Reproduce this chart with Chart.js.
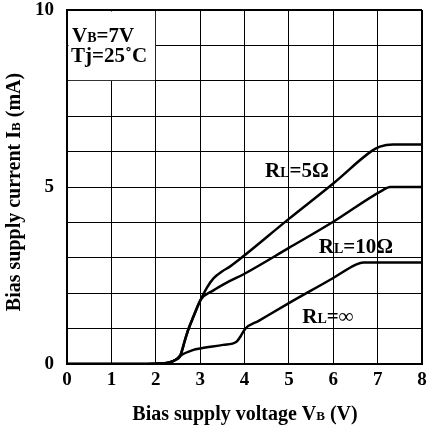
<!DOCTYPE html>
<html>
<head>
<meta charset="utf-8">
<script src="https://cdn.jsdelivr.net/npm/chart.js@4.4.1/dist/chart.umd.min.js"></script>
<style>
html, body { margin: 0; padding: 0; background: #fff; }
#wrap { width: 427px; height: 425px; }
</style>
</head>
<body>
<div id="wrap"><canvas id="graph"></canvas></div>
<script>
// Bias supply current vs bias supply voltage, three load resistances
const rl5Volts = [0, 1, 2, 2.3, 2.45, 2.55, 2.66, 2.73, 2.85, 3.01, 3.15, 3.3, 3.5, 3.67, 3.78, 4.05, 5, 6, 6.87, 7.05, 7.35, 8];
const rl5Current = [0, 0, 0.01, 0.04, 0.12, 0.23, 0.68, 0.96, 1.34, 1.81, 2.15, 2.42, 2.62, 2.75, 2.85, 3.12, 4.1, 5.1, 6.02, 6.14, 6.2, 6.2];

const rl10Volts = [0, 1, 2, 2.3, 2.45, 2.55, 2.66, 2.73, 2.85, 3.01, 3.3, 3.6, 4.0, 5, 6, 7.1, 7.28, 8];
const rl10Current = [0, 0, 0.01, 0.04, 0.12, 0.23, 0.68, 0.96, 1.34, 1.81, 2.08, 2.3, 2.55, 3.28, 4.02, 4.9, 5.0, 5.0];

const rlInfVolts = [0, 1, 2, 2.3, 2.45, 2.55, 2.85, 3.0, 3.52, 3.82, 3.92, 4.02, 4.32, 5, 6, 6.5, 6.68, 8];
const rlInfCurrent = [0, 0, 0.01, 0.04, 0.12, 0.23, 0.4, 0.44, 0.54, 0.63, 0.8, 1.0, 1.22, 1.72, 2.43, 2.8, 2.87, 2.87];

const yTickLabels = [0, 5, 10];

const FONT = "'Liberation Serif', 'Times New Roman', serif";

function toPoints(xs, ys) {
    return xs.map((v, i) => ({ x: v, y: ys[i] }));
}

// draws text made of pieces of different sizes (for the small subscripts)
function drawPieces(ctx, pieces, x, y, align) {
    let total = 0;
    pieces.forEach(p => {
        ctx.font = 'bold ' + p[1] + 'px ' + FONT;
        total += ctx.measureText(p[0]).width;
    });
    let cx = align === 'center' ? x - total / 2 : x;
    ctx.textAlign = 'left';
    ctx.textBaseline = 'alphabetic';
    pieces.forEach(p => {
        ctx.font = 'bold ' + p[1] + 'px ' + FONT;
        ctx.fillText(p[0], cx, y);
        cx += ctx.measureText(p[0]).width;
    });
}

const annotations = {
    id: 'annotations',
    beforeDatasetsDraw(chart) {
        const ctx = chart.ctx;
        const xs = chart.scales.x, ys = chart.scales.y;
        // blank box in the top-left corner of the grid
        ctx.save();
        ctx.fillStyle = '#fff';
        const x0 = xs.getPixelForValue(0) + 1.5, x1 = xs.getPixelForValue(2) - 0.6;
        const y0 = ys.getPixelForValue(10) + 1.5, y1 = ys.getPixelForValue(8) - 0.6;
        ctx.fillRect(x0, y0, x1 - x0, y1 - y0);
        ctx.restore();
    },
    afterDraw(chart) {
        const ctx = chart.ctx;
        ctx.save();
        ctx.fillStyle = '#000';
        drawPieces(ctx, [['V', 21], ['B', 14], ['=7V', 21]], 72, 42, 'left');
        drawPieces(ctx, [['Tj=25˚C', 21]], 71, 62, 'left');

        drawPieces(ctx, [['R', 21], ['L', 14], ['=5Ω', 21]], 297, 177, 'center');
        drawPieces(ctx, [['R', 21], ['L', 14], ['=10Ω', 21]], 356, 253, 'center');
        drawPieces(ctx, [['R', 21], ['L', 14], ['=∞', 21]], 328, 323, 'center');

        // axis titles
        drawPieces(ctx, [['Bias supply voltage V', 20], ['B', 13], [' (V)', 20]], 245, 420, 'center');
        ctx.translate(20, 192);
        ctx.rotate(-Math.PI / 2);
        drawPieces(ctx, [['Bias supply current I', 20], ['B', 13], [' (mA)', 20]], 0, 0, 'center');
        ctx.restore();
    }
};

const lineStyle = {
    borderColor: '#000',
    borderWidth: 2.5,
    pointRadius: 0,
    fill: false,
    cubicInterpolationMode: 'monotone'
};

new Chart(document.querySelector('#graph').getContext('2d'), {
    type: 'line',
    data: {
        datasets: [
            Object.assign({ label: 'RL=5Ω', data: toPoints(rl5Volts, rl5Current) }, lineStyle),
            Object.assign({ label: 'RL=10Ω', data: toPoints(rl10Volts, rl10Current) }, lineStyle),
            Object.assign({ label: 'RL=∞', data: toPoints(rlInfVolts, rlInfCurrent) }, lineStyle)
        ]
    },
    options: {
        responsive: true,
        maintainAspectRatio: false,
        animation: false,
        layout: { padding: { left: 0, top: 10, right: 5, bottom: 0 } },
        plugins: {
            legend: { display: false },
            tooltip: { enabled: false }
        },
        scales: {
            x: {
                type: 'linear',
                min: 0,
                max: 8,
                afterFit: s => { s.height = 61; s.paddingLeft = 0; s.paddingRight = 0; },
                ticks: {
                    stepSize: 1,
                    color: '#000',
                    padding: 5,
                    maxRotation: 0,
                    font: { family: FONT, size: 19, weight: 'bold' }
                },
                grid: {
                    color: '#000',
                    lineWidth: c => (c.tick && c.tick.value === 8) ? 2 : 1,
                    drawTicks: false
                },
                border: { display: true, color: '#000', width: 2 }
            },
            y: {
                min: 0,
                max: 10,
                afterFit: s => { s.width = 67; s.paddingTop = 0; s.paddingBottom = 0; },
                ticks: {
                    stepSize: 1,
                    color: '#000',
                    padding: 13,
                    font: { family: FONT, size: 19, weight: 'bold' },
                    callback: v => yTickLabels.includes(v) ? String(v) : ''
                },
                grid: {
                    color: '#000',
                    lineWidth: c => (c.tick && c.tick.value === 10) ? 2 : 1,
                    drawTicks: false
                },
                border: { display: true, color: '#000', width: 2 }
            }
        }
    },
    plugins: [annotations]
});
</script>
</body>
</html>
